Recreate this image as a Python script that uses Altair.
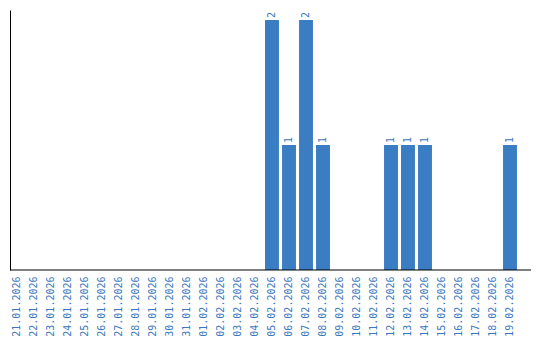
import altair as alt
import pandas as pd

dates = ["21.01.2026", "22.01.2026", "23.01.2026", "24.01.2026", "25.01.2026",
         "26.01.2026", "27.01.2026", "28.01.2026", "29.01.2026", "30.01.2026",
         "31.01.2026", "01.02.2026", "02.02.2026", "03.02.2026", "04.02.2026",
         "05.02.2026", "06.02.2026", "07.02.2026", "08.02.2026", "09.02.2026",
         "10.02.2026", "11.02.2026", "12.02.2026", "13.02.2026", "14.02.2026",
         "15.02.2026", "16.02.2026", "17.02.2026", "18.02.2026", "19.02.2026"]
counts = [0, 0, 0, 0, 0, 0, 0, 0, 0, 0,
          0, 0, 0, 0, 0, 2, 1, 2, 1, 0,
          0, 0, 1, 1, 1, 0, 0, 0, 0, 1]

df = pd.DataFrame({"date": dates, "count": counts})
df["label"] = df["count"].apply(lambda v: str(v) if v > 0 else "")

BLUE = "#3b7dc3"
TXT = "#3a78be"

x = alt.X("date:N", sort=dates,
          scale=alt.Scale(range=[-1.5, 508.5], paddingInner=0.18, paddingOuter=0.09),
          axis=alt.Axis(title=None, labelAngle=-90, labelAlign="right", labelBaseline="middle",
                        labelFont="DejaVu Sans Mono", labelFontSize=10, labelColor=TXT,
                        ticks=False, domain=False, labelPadding=6, grid=False))
y = alt.Y("count:Q", scale=alt.Scale(domain=[0, 2.08], nice=False),
          axis=alt.Axis(title=None, labels=False, ticks=False, grid=False,
                        domain=True, domainColor="black", domainWidth=1))

base = alt.Chart(df)
bars = base.mark_bar(color=BLUE).encode(x=x, y=y)
text = base.mark_text(angle=270, align="left", baseline="middle", dx=2,
                      font="DejaVu Sans Mono", fontSize=10, color=TXT).encode(
    x=alt.X("date:N", sort=dates), y="count:Q", text="label:N")
rule = alt.Chart(pd.DataFrame({"a": [0]})).mark_rule(color="black", strokeWidth=1).encode(
    x=alt.value(0), x2=alt.value(521), y=alt.value(260))

chart = alt.layer(bars, text, rule).properties(
    width=521, height=260,
    autosize=alt.AutoSizeParams(type="none"),
    padding={"left": 10, "top": 10, "right": 9, "bottom": 70},
).configure_view(stroke=None)

chart.save("out.html", embed_options={"renderer": "svg", "actions": False})
